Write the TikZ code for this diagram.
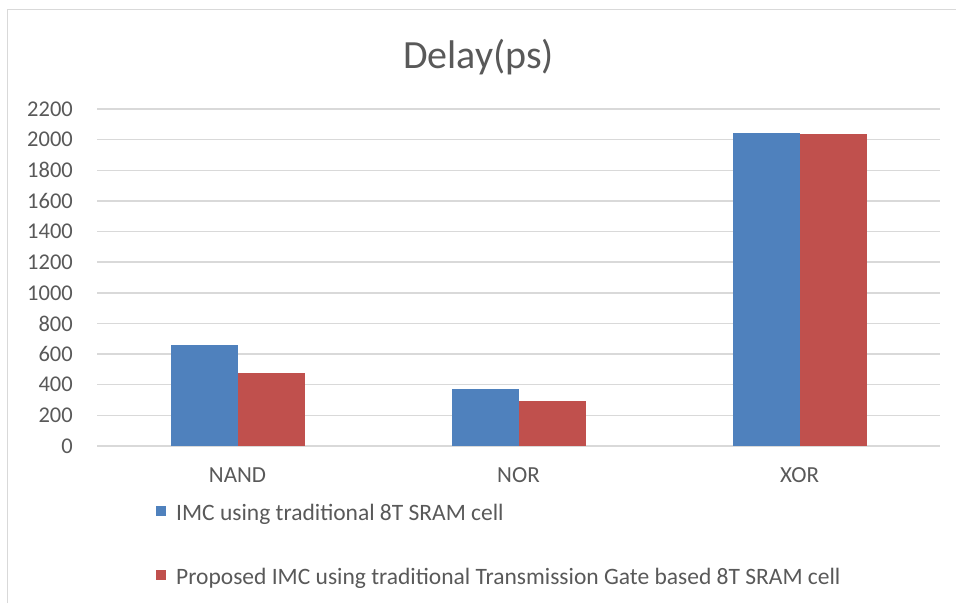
\documentclass[tikz,border=0pt]{standalone}
\usepackage{fontspec}
\setmainfont{Carlito}
\usetikzlibrary{calc}
\definecolor{imcblue}{HTML}{4F81BD}
\definecolor{tgred}{HTML}{C0504D}
\definecolor{gridgray}{HTML}{D9D9D9}
\definecolor{labelgray}{HTML}{595959}

\begin{document}
\begin{tikzpicture}[x=1pt,y=1pt,
		ticklabel/.style={anchor=east,text=labelgray,inner sep=0pt,font=\fontsize{22.5}{26}\selectfont},
		catlabel/.style={text=labelgray,inner sep=0pt,font=\fontsize{23}{27}\selectfont},
		legendtext/.style={anchor=base west,text=labelgray,inner sep=0pt,font=\fontsize{23.5}{27}\selectfont}]
			\useasboundingbox (0,0) rectangle (956,603);
			\draw[gridgray,line width=1.5pt] (7.5,0) -- (7.5,593.5) -- (956,593.5);
			
			\coordinate(O) at (97,157);
			\coordinate(E) at (940,157);
			
			\node[text=labelgray,inner sep=0pt,anchor=base,font=\fontsize{40}{44}\selectfont] (title) at (478.5,534.5) {Delay(ps)};
			
			\foreach \v in {0,200,...,2200}{
				\draw[gridgray,line width=1.5pt] ($(O)+(0,\v*0.15318)$) -- ($(E)+(0,\v*0.15318)$);
				\node[ticklabel] (y\v) at ($(O)+(-24,\v*0.15318)$) {\v};
			}
			
			\foreach \name/\i/\a/\b in {NAND/0/657/474,NOR/1/372/292,XOR/2/2045/2037}{
				\coordinate(c\name) at ($(O)+(140.5+281*\i,0)$);
				\fill[imcblue] ($(c\name)+(-67,0)$) rectangle ($(c\name)+(0,\a*0.15318)$);
				\fill[tgred] (c\name) rectangle ($(c\name)+(67,\b*0.15318)$);
				\node[catlabel] (x\name) at ($(c\name)+(0,-29.5)$) {\name};
			}
			
			\fill[imcblue] (156,87) rectangle (166,97);
			\node[legendtext] (leg1) at (176,82.3) {IMC using traditional 8T SRAM cell};
			\fill[tgred] (156,23.5) rectangle (166,33.5);
			\node[legendtext] (leg2) at (176,19) {Proposed IMC using traditional Transmission Gate based 8T SRAM cell};
		\end{tikzpicture}
\end{document}
